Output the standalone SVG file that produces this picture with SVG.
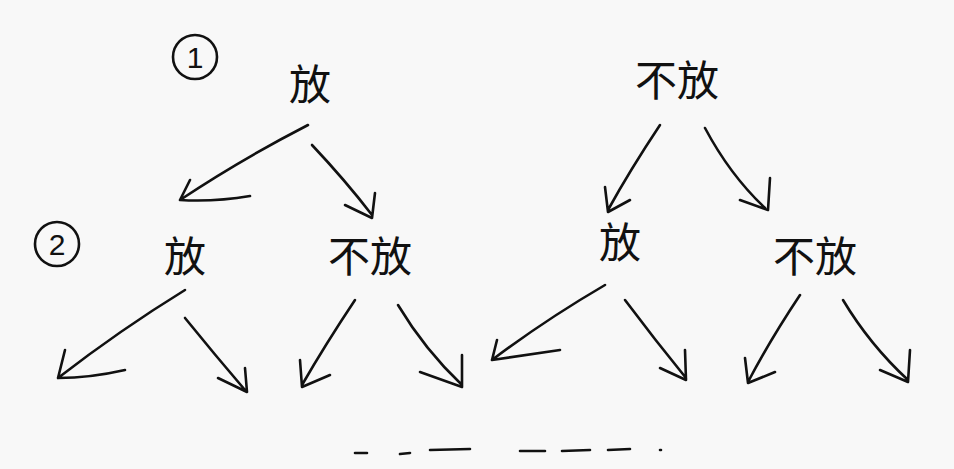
<svg xmlns="http://www.w3.org/2000/svg" width="954" height="469" viewBox="0 0 954 469">
<style>
.t{font-family:"Noto Sans CJK SC","Noto Sans CJK JP",sans-serif;font-size:42px;fill:#111}
.n{font-family:"Liberation Sans",sans-serif;font-size:30px;fill:#111}
.s{fill:none;stroke:#111;stroke-width:2.6;stroke-linecap:round;stroke-linejoin:round}
</style>
<rect width="954" height="469" fill="#f8f8f8"/>
<g id="label1"><circle class="s" cx="195" cy="57" r="22"/><text class="n" x="195" y="68" text-anchor="middle">1</text></g>
<g id="label2"><circle class="s" cx="57" cy="244" r="22"/><text class="n" x="57" y="255" text-anchor="middle">2</text></g>
<g id="n1"><text class="t" x="310" y="100" text-anchor="middle">放</text></g>
<g id="n2"><text class="t" x="677" y="96" text-anchor="middle">不放</text></g>
<g id="n3"><text class="t" x="185" y="272" text-anchor="middle">放</text></g>
<g id="n4"><text class="t" x="370" y="272" text-anchor="middle">不放</text></g>
<g id="n5"><text class="t" x="620" y="258" text-anchor="middle">放</text></g>
<g id="n6"><text class="t" x="815" y="272" text-anchor="middle">不放</text></g>
<g id="connectors" class="s">
<path class="s" d="M308,125 Q240,160 180,200 M190,180 L180,200 Q215,202 250,196"/>
<path class="s" d="M312,145 Q345,180 372,215 M345,205 L372,218 L375,193"/>
<path class="s" d="M660,125 Q630,170 608,210 M605,187 L608,212 L630,200"/>
<path class="s" d="M705,128 Q730,175 765,208 M740,200 L768,210 L770,178"/>
<path class="s" d="M185,290 Q120,330 58,378 M65,350 L58,378 Q90,378 125,370"/>
<path class="s" d="M185,318 Q215,355 245,390 M218,378 L247,392 L245,368"/>
<path class="s" d="M355,300 Q325,345 302,385 M300,360 L302,387 L330,375"/>
<path class="s" d="M398,305 Q425,350 462,385 M420,372 L462,387 L462,355"/>
<path class="s" d="M605,285 Q545,320 492,360 M497,340 L492,360 Q525,355 560,350"/>
<path class="s" d="M625,300 Q655,340 686,378 M660,368 L686,380 L685,350"/>
<path class="s" d="M800,295 Q770,340 748,382 M745,358 L748,383 L775,372"/>
<path class="s" d="M843,300 Q870,345 908,380 M880,370 L908,382 L910,350"/>
</g>
<g id="dots" class="s">
<path class="s" d="M355,453 L367,453 M400,454 L410,453 M430,450 L470,449 M520,451 L545,451 M562,451 L590,450 M608,450 L630,449 M660,450 L661,450"/>
</g>
</svg>
